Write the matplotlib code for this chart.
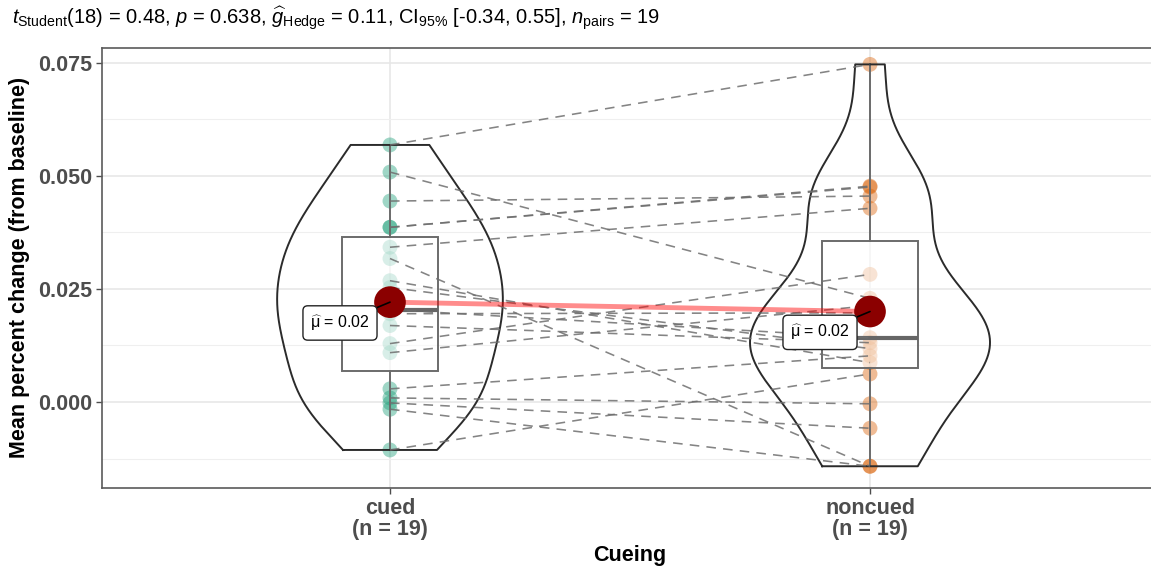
import numpy as np
import matplotlib.pyplot as plt

plt.rcParams["font.family"] = ["Liberation Sans", "DejaVu Sans"]
plt.rcParams["mathtext.fontset"] = "custom"
plt.rcParams["mathtext.rm"] = "Liberation Sans"
plt.rcParams["mathtext.it"] = "Liberation Sans:italic"
plt.rcParams["mathtext.bf"] = "Liberation Sans:bold"

# paired observations, one entry per subject
conditions = ["cued", "noncued"]
cued = [0.0568, 0.0508, 0.0444, 0.0386, 0.0386, 0.0342, 0.0317, 0.0268,
        0.0253, 0.0204, 0.0195, 0.0169, 0.0129, 0.0109, 0.0029, 0.0009,
        -0.0002, -0.0016, -0.0106]
noncued = [0.0746, 0.0229, 0.0455, 0.0477, 0.0475, 0.0428, -0.0142, 0.0087,
           0.0118, 0.0142, 0.0197, 0.0131, 0.0282, 0.0213, 0.0102, -0.0004,
           -0.0058, -0.0142, 0.0062]
subtitle = (r"$t_{\mathrm{Student}}$(18) = 0.48, $p$ = 0.638, "
            r"$\widehat{g}_{\mathrm{Hedge}}$ = 0.11, CI$_{95\%}$ [-0.34, 0.55], "
            r"$n_{\mathrm{pairs}}$ = 19")
colors = ["#1B9E77", "#D95F02"]

groups = [np.array(cued), np.array(noncued)]
positions = [1, 2]


def kde(vals, n=512):
    # gaussian density on the data range, bandwidth like R's bw.nrd0
    sd = vals.std(ddof=1)
    iqr = np.subtract(*np.percentile(vals, [75, 25]))
    bw = 0.9 * min(sd, iqr / 1.34) * len(vals) ** -0.2
    grid = np.linspace(vals.min(), vals.max(), n)
    dens = np.exp(-0.5 * ((grid[:, None] - vals[None, :]) / bw) ** 2).sum(axis=1)
    dens /= len(vals) * bw * np.sqrt(2 * np.pi)
    return grid, dens


fig = plt.figure(figsize=(11.51, 5.72), dpi=100)
# panel runs a little past the right edge of the canvas
ax = fig.add_axes([0.0886, 0.1469, 0.9175, 0.7698])

# violins scaled by area, max half width 0.25
dens_all = [kde(g) for g in groups]
dmax = max(d.max() for _, d in dens_all)
for pos, (grid, dens) in zip(positions, dens_all):
    half = 0.25 * dens / dmax
    xs = np.concatenate([pos - half, (pos + half)[::-1], [pos - half[0]]])
    ys = np.concatenate([grid, grid[::-1], [grid[0]]])
    ax.plot(xs, ys, color="#2b2b2b", lw=1.4, zorder=3)

# raw points
for pos, g, c in zip(positions, groups, colors):
    ax.scatter(np.full(len(g), pos), g, s=115, color=c, alpha=0.42,
               edgecolors="none", zorder=1)

ax.boxplot(groups, positions=positions, widths=0.2, patch_artist=True,
           showcaps=False, showfliers=False, whis=1.5,
           boxprops=dict(facecolor=(1, 1, 1, 0.6), edgecolor="#6b6b6b", lw=1.4),
           medianprops=dict(color="#666666", lw=3.0),
           whiskerprops=dict(color="#6b6b6b", lw=1.4),
           zorder=2)

# subject trajectories
for a, b in zip(cued, noncued):
    ax.plot(positions, [a, b], color="#6e6e6e", lw=1.15, alpha=0.85,
            ls=(0, (6, 4.5)), zorder=3)

means = [g.mean() for g in groups]
ax.plot(positions, means, color="red", alpha=0.45, lw=3.5, zorder=4)
ax.scatter(positions, means, s=520, color="#8B0000", zorder=5,
           edgecolors="none")
for pos, m in zip(positions, means):
    ax.annotate(r"$\widehat{\mathrm{μ}}$" + f" = {m:.2f}", xy=(pos, m),
                xytext=(-36, -15), textcoords="offset points",
                ha="center", va="center", fontsize=11.5, zorder=6,
                bbox=dict(boxstyle="round,pad=0.45,rounding_size=0.3",
                          fc="white", ec="#222222", lw=1.0),
                arrowprops=dict(arrowstyle="-", color="black", lw=1.2,
                                shrinkA=0, shrinkB=0))

ax.set_xlim(0.4, 2.6)
ax.set_ylim(-0.0190, 0.0783)
ax.set_yticks([0.0, 0.025, 0.05, 0.075])
ax.set_yticklabels(["0.000", "0.025", "0.050", "0.075"])
ax.set_yticks([-0.0125, 0.0125, 0.0375, 0.0625], minor=True)
ax.set_xticks(positions)
ax.set_xticklabels([f"{c}\n(n = {len(g)})" for c, g in zip(conditions, groups)],
                   linespacing=1.05)
ax.tick_params(axis="both", labelsize=15.5, colors="#4d4d4d", length=4,
               width=1.0, pad=3)
ax.tick_params(axis="y", which="minor", length=0)
for lab in ax.get_xticklabels() + ax.get_yticklabels():
    lab.set_fontweight("bold")
ax.grid(which="major", color="#e6e6e6", lw=1.1)
ax.grid(which="minor", color="#efefef", lw=0.8)
ax.set_axisbelow(True)
for sp in ax.spines.values():
    sp.set_color("#5a5a5a")
    sp.set_linewidth(1.2)

ax.set_xlabel("Cueing", fontsize=15.5, fontweight="bold", labelpad=3)
ax.set_ylabel("Mean percent change (from baseline)", fontsize=15.5,
              fontweight="bold", labelpad=6)
fig.text(0.0105, 1 - 18 / 572, subtitle, fontsize=14.5, ha="left",
         va="center")

fig.savefig("out.png", dpi=100)
